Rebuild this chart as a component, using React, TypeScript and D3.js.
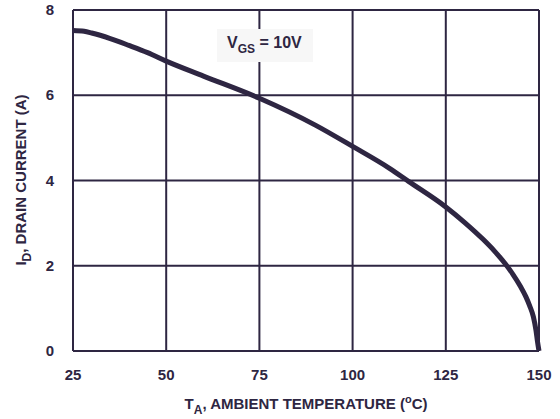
import {useEffect, useRef} from "react";
import * as d3 from "d3";

// Drain current vs ambient temperature, VGS = 10V
const temperature = [25, 28, 30, 35, 40, 45, 50, 60, 75, 90, 100, 110, 115, 125, 130, 135, 138, 141, 143, 145, 146.5, 147.5, 148.5, 149.2, 149.6, 150];
const drainCurrent = [7.52, 7.5, 7.46, 7.33, 7.17, 7.0, 6.8, 6.45, 5.93, 5.3, 4.8, 4.28, 3.98, 3.38, 3.02, 2.62, 2.35, 2.04, 1.8, 1.52, 1.27, 1.06, 0.8, 0.48, 0.22, 0];
const xTicks = [25, 50, 75, 100, 125, 150];
const yTicks = [0, 2, 4, 6, 8];

const INK = "#2e2642";

export default function App() {
    const ref = useRef(null);
    const width = 560, height = 419;
    const margin = {top: 10, right: 21, bottom: 68, left: 73};

    useEffect(() => {
        const svg = d3.select(ref.current);
        svg.selectAll("*").remove();

        const x = d3.scaleLinear().domain([25, 150]).range([margin.left, width - margin.right]);
        const y = d3.scaleLinear().domain([0, 8]).range([height - margin.bottom, margin.top]);

        const font = "'Liberation Sans', Arial, sans-serif";

        // grid
        const grid = svg.append("g").attr("stroke", INK).attr("stroke-width", 2);
        grid.selectAll("line.v").data(xTicks).join("line")
            .attr("x1", d => x(d)).attr("x2", d => x(d))
            .attr("y1", y(0)).attr("y2", y(8));
        grid.selectAll("line.h").data(yTicks).join("line")
            .attr("x1", x(25)).attr("x2", x(150))
            .attr("y1", d => y(d)).attr("y2", d => y(d));

        // VGS label box
        svg.append("rect")
            .attr("x", 217).attr("y", 29).attr("width", 96).attr("height", 33)
            .attr("fill", "#f7f7f7");
        const vgs = svg.append("text")
            .attr("x", 227).attr("y", 48)
            .attr("font-family", font).attr("font-weight", "bold").attr("font-size", 16)
            .attr("fill", INK);
        vgs.append("tspan").text("V");
        vgs.append("tspan").attr("dy", 5).attr("font-size", 12).text("GS");
        vgs.append("tspan").attr("dy", -5).text(" = 10V");

        // curve
        const line = d3.line()
            .x((d, i) => x(temperature[i]))
            .y(d => y(d))
            .curve(d3.curveMonotoneX);
        svg.append("path")
            .attr("d", line(drainCurrent))
            .attr("fill", "none")
            .attr("stroke", INK)
            .attr("stroke-width", 5)
            .attr("stroke-linejoin", "round");

        // tick labels
        svg.append("g")
            .attr("font-family", font).attr("font-weight", "bold").attr("font-size", 15)
            .attr("fill", INK).attr("text-anchor", "middle")
            .selectAll("text").data(xTicks).join("text")
            .attr("x", d => x(d)).attr("y", 380)
            .text(d => d);
        svg.append("g")
            .attr("font-family", font).attr("font-weight", "bold").attr("font-size", 15)
            .attr("fill", INK).attr("text-anchor", "end")
            .selectAll("text").data(yTicks).join("text")
            .attr("x", 54).attr("y", d => y(d) + 5)
            .text(d => d);

        // axis titles
        const xt = svg.append("text")
            .attr("x", 306).attr("y", 409)
            .attr("text-anchor", "middle")
            .attr("font-family", font).attr("font-weight", "bold").attr("font-size", 15)
            .attr("fill", INK);
        xt.append("tspan").text("T");
        xt.append("tspan").attr("dy", 5).attr("font-size", 12).text("A");
        xt.append("tspan").attr("dy", -5).text(", AMBIENT TEMPERATURE (");
        xt.append("tspan").attr("dy", -6).attr("font-size", 11).text("o");
        xt.append("tspan").attr("dy", 6).text("C)");

        const yt = svg.append("text")
            .attr("transform", `translate(26, 180) rotate(-90)`)
            .attr("text-anchor", "middle")
            .attr("font-family", font).attr("font-weight", "bold").attr("font-size", 15)
            .attr("fill", INK);
        yt.append("tspan").text("I");
        yt.append("tspan").attr("dy", 5).attr("font-size", 12).text("D");
        yt.append("tspan").attr("dy", -5).text(", DRAIN CURRENT (A)");
    });

    return (
        <svg ref={ref} width={width} height={height}
             style={{position: "absolute", left: 0, top: 0, background: "#fff"}} />
    );
}
